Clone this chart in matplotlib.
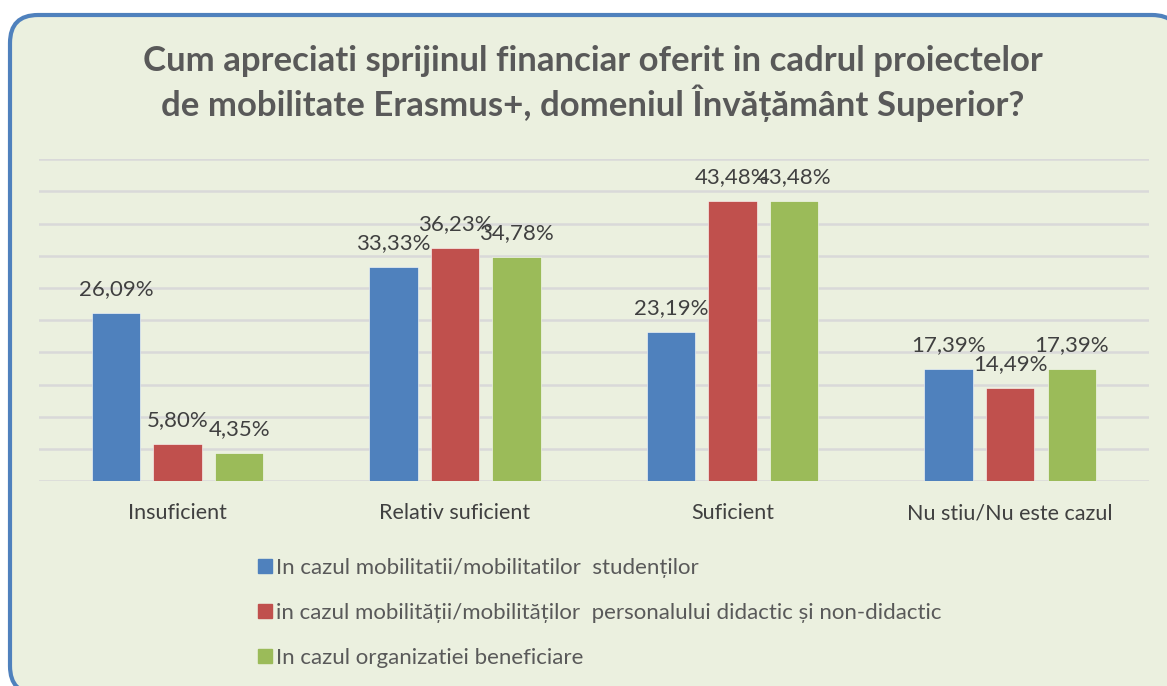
import numpy as np
import matplotlib
matplotlib.use("Agg")
import matplotlib.pyplot as plt
from matplotlib.patches import FancyBboxPatch
from matplotlib.lines import Line2D

# data
categories = ["Insuficient", "Relativ suficient", "Suficient", "Nu stiu/Nu este cazul"]
series_names = [
    "In cazul mobilitatii/mobilitatilor  studenților",
    "in cazul mobilității/mobilităților  personalului didactic și non-didactic",
    "In cazul organizatiei beneficiare",
]
studenti = [26.09, 33.33, 23.19, 17.39]
personal = [5.80, 36.23, 43.48, 14.49]
organizatie = [4.35, 34.78, 43.48, 17.39]
colors = ["#4F81BD", "#C0504D", "#9BBB59"]

title = ("Cum apreciati sprijinul financiar oferit in cadrul proiectelor\n"
         "de mobilitate Erasmus+, domeniul Învățământ Superior?")

plt.rcParams["font.family"] = ["Lato", "DejaVu Sans"]

fig = plt.figure(figsize=(11.67, 6.86), dpi=100, facecolor="white")

# rounded frame of the chart area
frame = FancyBboxPatch((0.10, -0.08), 11.70, 6.79,
                       boxstyle="round,pad=0,rounding_size=0.28",
                       transform=fig.dpi_scale_trans,
                       facecolor="#EBF0DF", edgecolor="#4F81BD",
                       linewidth=3, zorder=-5, clip_on=False)
fig.patches.append(frame)

ax = fig.add_axes([0.0332, 0.2988, 0.9512, 0.469])
ax.set_facecolor("none")
ax.set_zorder(2)

x = np.arange(len(categories))
width = 0.174
pitch = 0.222
all_series = [studenti, personal, organizatie]

for i, (vals, col) in enumerate(zip(all_series, colors)):
    bars = ax.bar(x + (i - 1) * pitch, vals, width=width, color=col,
                  edgecolor="white", linewidth=0.4, zorder=3,
                  label=series_names[i])
    for b, v in zip(bars, vals):
        ax.annotate(f"{v:.2f}%".replace(".", ","),
                    (b.get_x() + b.get_width() / 2, b.get_height()),
                    xytext=(0, 10), textcoords="offset points",
                    ha="center", va="bottom", fontsize=16, color="#404040",
                    zorder=4)

ax.set_xlim(-0.5, len(categories) - 0.5)
ax.set_ylim(0, 50)
ax.set_yticks(np.arange(0, 51, 5))
ax.yaxis.grid(True, color="#D9D9D9", linewidth=1.8, zorder=0)
ax.set_axisbelow(True)
ax.set_yticklabels([])
ax.tick_params(axis="both", length=0)
for s in ax.spines.values():
    s.set_visible(False)
ax.set_xticks(x)
ax.set_xticklabels(categories, fontsize=15.5, color="#404040")
ax.tick_params(axis="x", pad=16)

fig.text(0.508, 0.935, title, ha="center", va="top", fontsize=25,
         fontweight="bold", color="#595959", linespacing=1.25)

handles = [Line2D([], [], marker="s", linestyle="none", markersize=10,
                  markerfacecolor=c, markeredgecolor=c) for c in colors]
fig.legend(handles, series_names, loc="upper left",
           bbox_to_anchor=(0.212, 0.2), frameon=False, fontsize=16,
           labelcolor="#595959", handlelength=0.8, handletextpad=0.1,
           labelspacing=1.13, borderaxespad=0)

fig.savefig("out.png", dpi=100, facecolor="white")
